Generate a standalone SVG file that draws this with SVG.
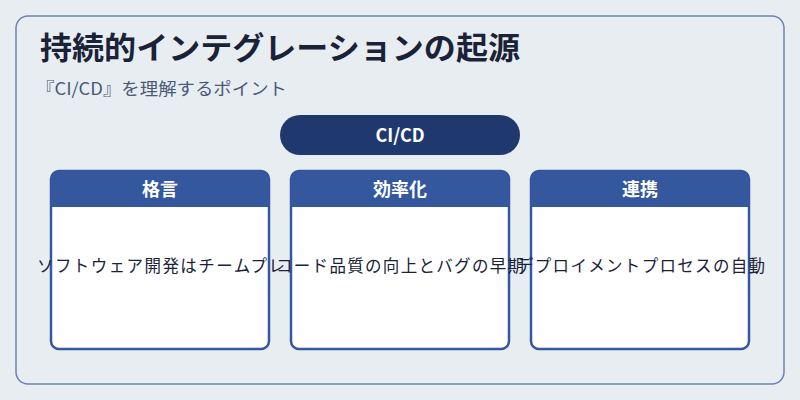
<svg xmlns="http://www.w3.org/2000/svg" width="800" height="400" viewBox="0 0 800 400">
<style>
.card{fill:#ffffff;stroke:#34579e;stroke-width:2.5}
.hd{fill:#34579e}
.ht{font-family:"Noto Sans CJK JP","Noto Sans",sans-serif;font-size:18px;font-weight:bold;fill:#fff;text-anchor:middle}
.bt{font-family:"Noto Sans CJK JP","Noto Sans",sans-serif;font-size:16.5px;fill:#1a2238;text-anchor:middle}
</style>
<rect width="800" height="400" fill="#e8edf2"/>
<rect x="16" y="16" width="768" height="368" rx="12" fill="#e8edf2" stroke="#6b84b0" stroke-width="1.5"/>
<text x="40" y="59" font-family="'Noto Sans CJK JP','Noto Sans',sans-serif" font-size="31" font-weight="bold" fill="#1a2238" textLength="480" lengthAdjust="spacingAndGlyphs">持続的インテグレーションの起源</text>
<text x="36" y="95" font-family="'Noto Sans CJK JP','Noto Sans',sans-serif" font-size="17" fill="#4a5a78" textLength="251" lengthAdjust="spacingAndGlyphs">『CI/CD』を理解するポイント</text>
<g id="root">
<rect x="280" y="115" width="240" height="40" rx="20" fill="#1f386e"/>
<text x="400" y="142" class="ht">CI/CD</text>
</g>
<g id="connectors"/>
<g id="card1">
<rect class="card" x="51" y="171" width="218" height="178" rx="8"/>
<path class="hd" d="M51 207V179a8 8 0 0 1 8-8h202a8 8 0 0 1 8 8v28z"/>
<text x="160" y="196" class="ht">格言</text>
<text x="161" y="272" class="bt" textLength="248" lengthAdjust="spacing">ソフトウェア開発はチームプレ</text>
</g>
<g id="card2">
<rect class="card" x="291" y="171" width="218" height="178" rx="8"/>
<path class="hd" d="M291 207V179a8 8 0 0 1 8-8h202a8 8 0 0 1 8 8v28z"/>
<text x="400" y="196" class="ht">効率化</text>
<text x="400" y="272" class="bt" textLength="248" lengthAdjust="spacing">コード品質の向上とバグの早期</text>
</g>
<g id="card3">
<rect class="card" x="531" y="171" width="218" height="178" rx="8"/>
<path class="hd" d="M531 207V179a8 8 0 0 1 8-8h202a8 8 0 0 1 8 8v28z"/>
<text x="640" y="196" class="ht">連携</text>
<text x="641" y="272" class="bt" textLength="248" lengthAdjust="spacing">デプロイメントプロセスの自動</text>
</g>
</svg>
